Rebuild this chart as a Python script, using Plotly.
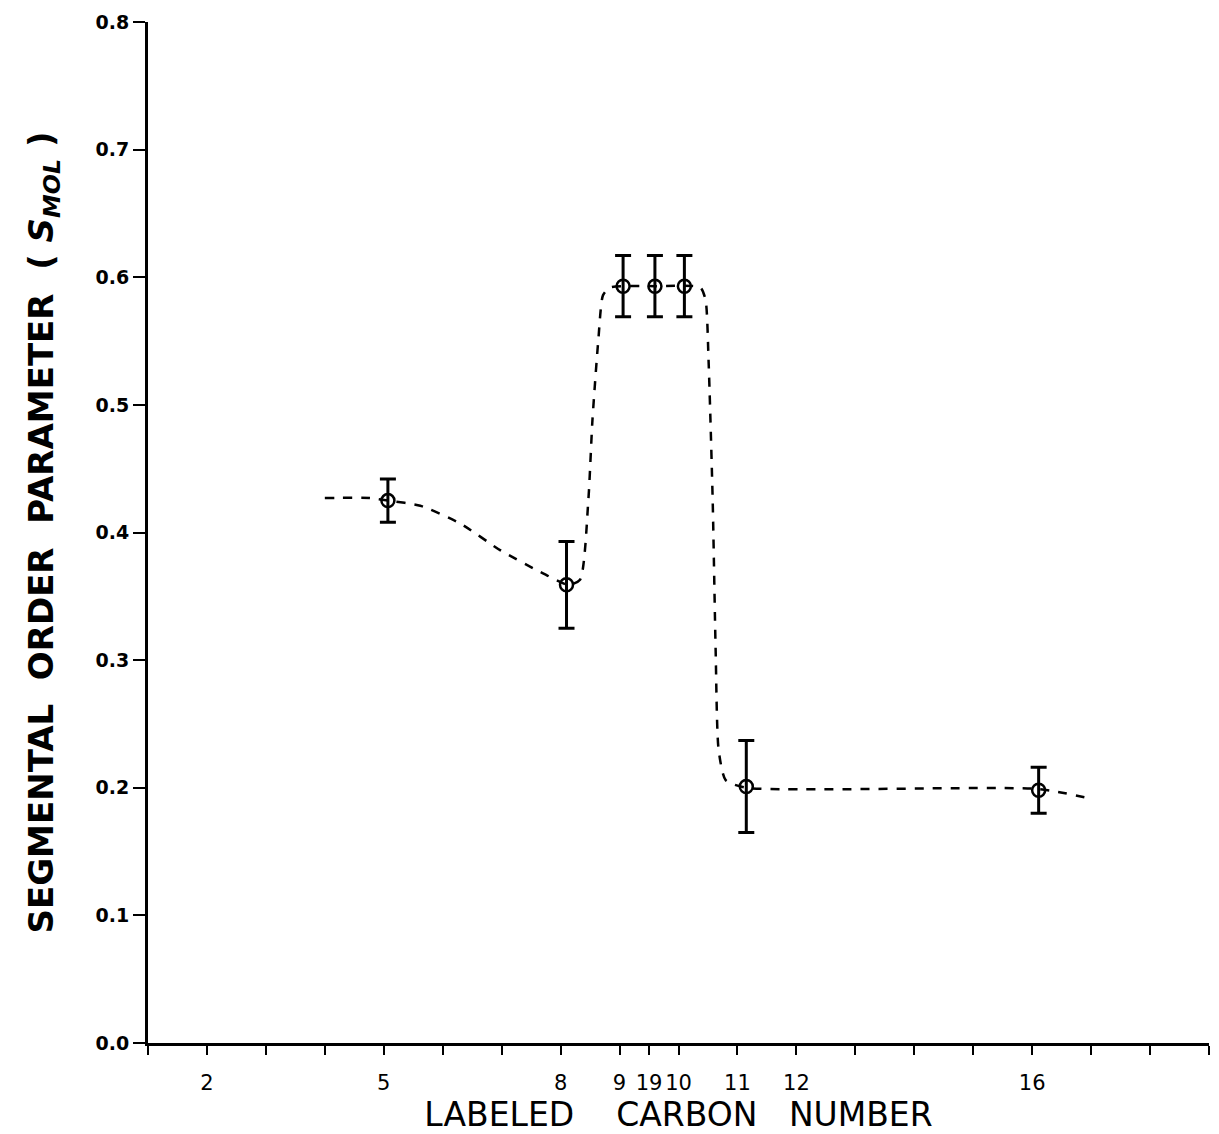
import plotly.graph_objects as go

# Labeled tick positions on the (non-linear) carbon axis and their labels
tick_pos = [1, 4, 7, 8, 8.5, 9, 10, 11, 15]
tick_text = ["2", "5", "8", "9", "19", "10", "11", "12", "16"]
# Unlabeled tick positions
minor_pos = [0, 2, 3, 5, 6, 12, 13, 14, 16, 17, 18]

# Measured points (position on axis), order parameter and error
pt_x = [4.07, 7.1, 8.06, 8.6, 9.1, 10.15, 15.11]
pt_y = [0.425, 0.359, 0.593, 0.593, 0.593, 0.201, 0.198]
pt_err = [0.017, 0.034, 0.024, 0.024, 0.024, 0.036, 0.018]

# Hand-drawn dashed guide curve
curve_x = [3.0, 3.77, 4.07, 4.62, 5.3, 5.98, 6.66, 7.13, 7.33, 7.47, 7.54, 7.64, 7.72, 7.84,
           8.61, 9.37, 9.46, 9.51, 9.58, 9.63, 9.68, 9.8, 10.15, 15.11, 16.04]
curve_y = [0.427, 0.427, 0.425, 0.421, 0.407, 0.386, 0.369, 0.359, 0.363, 0.425, 0.488, 0.551,
           0.586, 0.592, 0.593, 0.592, 0.582, 0.535, 0.425, 0.308, 0.23, 0.206, 0.2, 0.199, 0.191]

y_ticks = [0.0, 0.1, 0.2, 0.3, 0.4, 0.5, 0.6, 0.7, 0.8]
y_text = ["<b>0.0</b>", "<b>0.1</b>", "<b>0.2</b>", "<b>0.3</b>", "<b>0.4</b>",
          "<b>0.5</b>", "<b>0.6</b>", "<b>0.7</b>", "<b>0.8</b>"]

fig = go.Figure()
fig.add_trace(go.Scatter(
    x=curve_x, y=curve_y, mode="lines",
    line=dict(color="black", width=2.5, dash="dash", shape="spline", smoothing=0.6),
    hoverinfo="skip", showlegend=False))
fig.add_trace(go.Scatter(
    x=pt_x, y=pt_y, mode="markers",
    marker=dict(symbol="circle-open", size=13, color="black", line=dict(width=2.5)),
    error_y=dict(type="data", array=pt_err, color="black", thickness=3, width=8),
    showlegend=False))

fig.update_layout(
    width=1219, height=1134,
    margin=dict(l=148, r=10, t=22, b=91),
    plot_bgcolor="white", paper_bgcolor="white",
    font=dict(family="DejaVu Sans", color="black"),
    xaxis=dict(range=[0, 18], tickmode="array", tickvals=tick_pos, ticktext=tick_text,
               ticks="outside", ticklen=9, tickwidth=2, tickcolor="black", tickangle=0,
               minor=dict(tickmode="array", tickvals=minor_pos, ticks="outside", ticklen=9,
                          tickwidth=2, tickcolor="black", showgrid=False),
               automargin=False,
               showline=True, linecolor="black", linewidth=3, showgrid=False, zeroline=False,
               tickfont=dict(size=21, family="DejaVu Sans"), ticklabelstandoff=10,
               title=dict(text="LABELED    CARBON   NUMBER", font=dict(size=33, family="DejaVu Sans"),
                          standoff=0)),
    yaxis=dict(range=[0, 0.8], tickmode="array", tickvals=y_ticks, ticktext=y_text,
               ticks="outside", ticklen=12, tickwidth=2, tickcolor="black",
               automargin=False,
               showline=True, linecolor="black", linewidth=3, showgrid=False, zeroline=False,
               tickfont=dict(size=19, family="DejaVu Sans"),
               title=dict(text="<b>SEGMENTAL  ORDER  PARAMETER  ( <i>S<sub>MOL</sub></i> )</b>",
                          font=dict(size=34, family="DejaVu Sans"), standoff=32)),
)

fig.write_html("out.html")
